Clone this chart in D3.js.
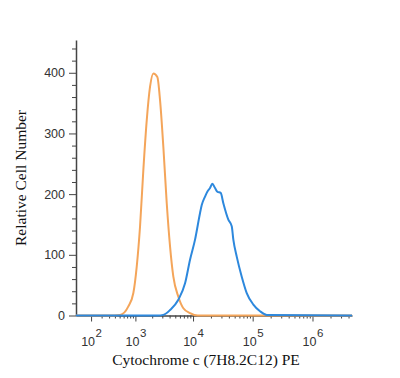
<!DOCTYPE html>
<html>
<head>
<meta charset="utf-8">
<script src="https://cdn.jsdelivr.net/npm/d3@7"></script>
<style>
  body { margin: 0; background: #fff; }
  svg { display: block; }
</style>
</head>
<body>
<svg id="chart"></svg>
<script>
// fluorescence (x) and cell count (y)
const isotypeX = [12, 300, 510, 739, 917, 1059, 1216, 1394, 1603, 1833, 2094, 2459, 2739, 3123, 3574, 4071, 4636, 5640, 6860, 8900, 12000, 4.57e6];
const isotypeY = [0, 0, 1, 15, 37, 81, 147, 240, 322, 377, 399, 393, 355, 278, 185, 114, 64, 31, 12, 4, 0, 0];

const stainedX = [12, 2500, 3123, 4071, 5640, 7330, 8900, 10810, 13130, 14020, 15930, 17400, 19320, 21130, 23450, 25620, 29210, 32300, 39170, 44660, 47500, 54130, 65650, 79600, 102700, 132800, 171900, 4.57e6];
const stainedY = [0, 0, 1, 9, 26, 53, 92, 125, 169, 182, 196, 204, 210, 217, 210, 204, 202, 185, 158, 147, 125, 97, 64, 37, 18, 7, 1, 0];

const yTicks = [0, 100, 200, 300, 400];
const xDecades = [2, 3, 4, 5, 6];

const W = 400, H = 378;
const svg = d3.select('#chart').attr('width', W).attr('height', H);

const x = d3.scaleSymlog().constant(100)
    .domain([12, 4.57e6])
    .range([76, 352]);

const y = d3.scaleLinear()
    .domain([0, 454])
    .range([315.5, 40]);

// y axis with minor ticks every 20
const yMinor = d3.range(0, 454, 20).filter(v => v % 100 !== 0);
svg.append('g')
    .attr('transform', 'translate(76,0)')
    .call(d3.axisLeft(y).tickValues(yMinor).tickSize(4).tickFormat(''))
    .call(g => g.select('.domain').remove())
    .selectAll('line').attr('stroke', '#444');

svg.append('g')
    .attr('transform', 'translate(76,0)')
    .call(d3.axisLeft(y).tickValues(yTicks).tickSize(7).tickPadding(4).tickSizeOuter(0))
    .call(g => g.select('.domain').attr('stroke', '#444').attr('stroke-width', 1.5))
    .call(g => g.selectAll('line').attr('stroke', '#444'))
    .call(g => g.selectAll('text')
        .attr('font-family', 'Liberation Sans, Arial, sans-serif')
        .attr('font-size', 12.5)
        .attr('fill', '#333'));

// x axis: decades plus 2..9 minors
const xMinor = [];
for (let k = 2; k <= 6; k++) {
    for (let m = 2; m <= 9; m++) {
        const v = m * Math.pow(10, k);
        if (v < 4.57e6) xMinor.push(v);
    }
}
const xMajor = xDecades.map(k => Math.pow(10, k));

svg.append('g')
    .attr('transform', 'translate(0,315.5)')
    .call(d3.axisBottom(x).tickValues(xMinor).tickSize(3).tickFormat(''))
    .call(g => g.select('.domain').remove())
    .selectAll('line').attr('stroke', '#444');

const xAxis = svg.append('g')
    .attr('transform', 'translate(0,315.5)')
    .call(d3.axisBottom(x).tickValues(xMajor).tickSize(6).tickSizeOuter(0).tickFormat(''))
    .call(g => g.select('.domain').attr('stroke', '#444').attr('stroke-width', 1.5))
    .call(g => g.selectAll('line').attr('stroke', '#444'));

xAxis.selectAll('.tick')
    .append('text')
    .attr('y', 30.5)
    .attr('fill', '#333')
    .attr('font-family', 'Liberation Sans, Arial, sans-serif')
    .attr('font-size', 12.5)
    .attr('text-anchor', 'middle')
    .each(function(d, i) {
        const t = d3.select(this);
        t.append('tspan').text('10');
        t.append('tspan').attr('dx', 0.5).attr('dy', -9).attr('font-size', 11.5).text(xDecades[i]);
    });

// curves
const line = d3.line()
    .x(d => x(d[0]))
    .y(d => y(d[1]))
    .curve(d3.curveMonotoneX);

svg.append('path')
    .datum(d3.zip(isotypeX, isotypeY))
    .attr('d', line)
    .attr('fill', 'none')
    .attr('stroke', '#f4a55a')
    .attr('stroke-width', 2);

svg.append('path')
    .datum(d3.zip(stainedX, stainedY))
    .attr('d', line)
    .attr('fill', 'none')
    .attr('stroke', '#2d88dd')
    .attr('stroke-width', 2);

// titles
svg.append('text')
    .attr('x', 206)
    .attr('y', 365)
    .attr('text-anchor', 'middle')
    .attr('font-family', 'Liberation Serif, Times New Roman, serif')
    .attr('font-size', 15.5)
    .attr('fill', '#111')
    .text('Cytochrome c (7H8.2C12) PE');

svg.append('text')
    .attr('transform', 'translate(26,178) rotate(-90)')
    .attr('text-anchor', 'middle')
    .attr('font-family', 'Liberation Serif, Times New Roman, serif')
    .attr('font-size', 15.5)
    .attr('fill', '#111')
    .text('Relative Cell Number');
</script>
</body>
</html>
